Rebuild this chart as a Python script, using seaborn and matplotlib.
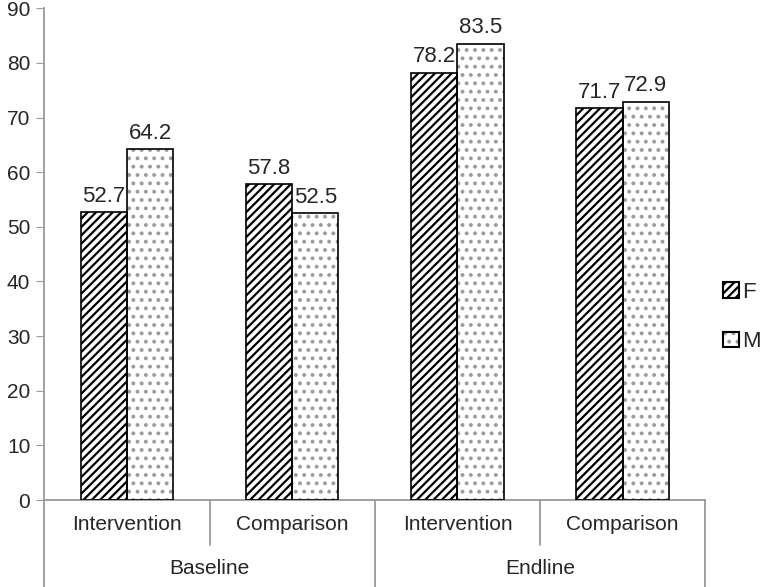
import matplotlib
matplotlib.use("Agg")
import matplotlib.pyplot as plt
import matplotlib.transforms as mtransforms
from matplotlib.patches import Patch, Rectangle
from matplotlib.legend_handler import HandlerTuple
import pandas as pd
import seaborn as sns

# chart data
periods = ["Baseline", "Endline"]
arms = ["Intervention", "Comparison", "Intervention", "Comparison"]
female = [52.7, 57.8, 78.2, 71.7]
male = [64.2, 52.5, 83.5, 72.9]
sexes = ["F", "M"]
yticks = [0, 10, 20, 30, 40, 50, 60, 70, 80, 90]

sns.set_style("white")
plt.rcParams["font.family"] = ["Liberation Sans", "DejaVu Sans"]
plt.rcParams["hatch.linewidth"] = 1.6

# long-form table, one key per bar group
groups = [f"{periods[i // 2]} {a}" for i, a in enumerate(arms)]
df = pd.DataFrame({
    "group": groups * 2,
    "sex": ["F"] * 4 + ["M"] * 4,
    "value": female + male,
})

fig = plt.figure(figsize=(7.76, 5.87), dpi=100)
ax = fig.add_axes([0.057, 0.148, 0.852, 0.838])

sns.barplot(data=df, x="group", y="value", hue="sex", order=groups,
            hue_order=sexes, palette=["white", "white"], width=0.56,
            errorbar=None, legend=False, ax=ax)

grey = "#9a9a9a"
styles = {"F": ("////", "black"), "M": ("..", "#9c9c9c")}
for sex, cont in zip(sexes, ax.containers):
    hatch, hcol = styles[sex]
    for p in cont:
        p.set_hatch(hatch)
        p.set_edgecolor(hcol)
        p.set_linewidth(0)
        ax.add_patch(Rectangle((p.get_x(), p.get_y()), p.get_width(), p.get_height(),
                               fill=False, edgecolor="black", lw=1.2, zorder=3))
    ax.bar_label(cont, fmt="%.1f", padding=4, fontsize=16)

ax.set_xlim(-0.5, 3.5)
ax.set_ylim(0, 90)
ax.set_yticks(yticks)
ax.set_xticks([])
ax.set_xlabel("")
ax.set_ylabel("")
ax.tick_params(axis="y", left=True, length=6, color=grey, labelsize=15, pad=4)
for s in ["top", "right"]:
    ax.spines[s].set_visible(False)
for s in ["left", "bottom"]:
    ax.spines[s].set_color(grey)
    ax.spines[s].set_linewidth(1.3)

# two-level category axis below the plot
trans = mtransforms.blended_transform_factory(ax.transData, fig.transFigure)
y0 = 0.148
for xb in [-0.5, 1.5, 3.5]:
    ax.plot([xb, xb], [y0, 0.0], color=grey, lw=1.3, transform=trans, clip_on=False)
for xb in [0.5, 2.5]:
    ax.plot([xb, xb], [y0, 0.072], color=grey, lw=1.3, transform=trans, clip_on=False)
for i, a in enumerate(arms):
    ax.text(i, 0.106, a, transform=trans, ha="center", va="center", fontsize=15)
for j, per in enumerate(periods):
    ax.text(2 * j + 0.5, 0.032, per, transform=trans, ha="center", va="center", fontsize=15)

# legend: hatched square with a black outline on top
handles = [(Patch(facecolor="white", edgecolor=styles[s][1], hatch=styles[s][0], lw=0),
            Patch(fill=False, edgecolor="black", lw=1.5)) for s in sexes]
fig.legend(handles, sexes, loc="center left", bbox_to_anchor=(0.932, 0.46),
           handler_map={tuple: HandlerTuple(ndivide=1, pad=0)},
           frameon=False, fontsize=16, handlelength=0.7, handleheight=0.7,
           handletextpad=0.15, labelspacing=1.3, borderpad=0, borderaxespad=0)

fig.savefig("out.png", dpi=100)
